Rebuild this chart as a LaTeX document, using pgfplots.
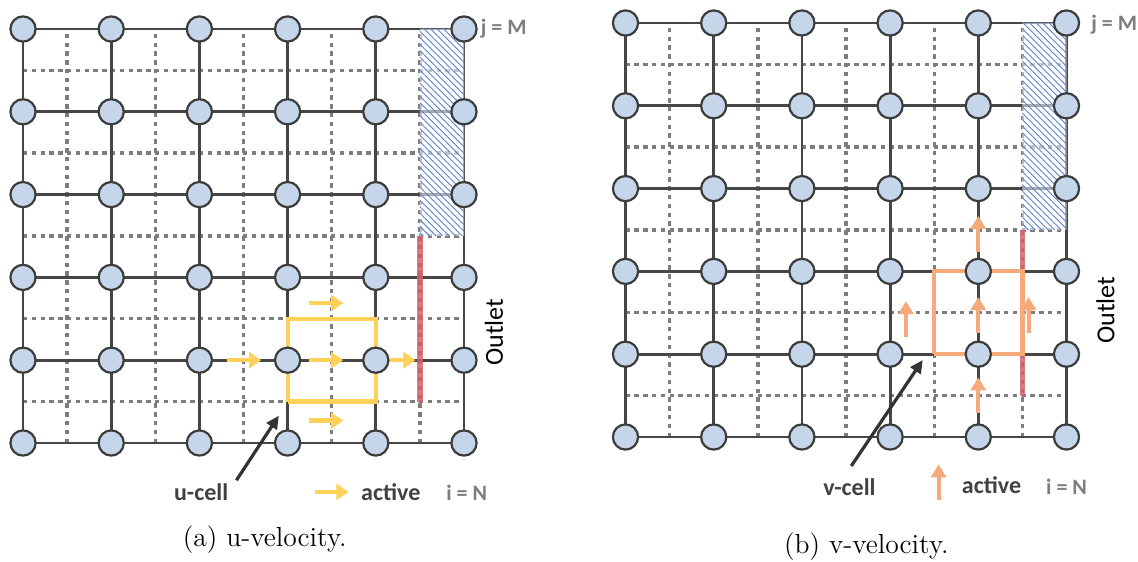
\documentclass[border=0pt]{standalone}
\usepackage{pgfplots}
\pgfplotsset{compat=1.18}
\usepackage{fontspec}
\newfontfamily\calib{Carlito}
\usetikzlibrary{arrows.meta,patterns.meta}
\definecolor{nodefill}{RGB}{198,214,234}
\definecolor{nodeedge}{RGB}{60,60,60}
\definecolor{gridline}{RGB}{70,70,70}
\definecolor{dashgray}{RGB}{125,125,125}
\definecolor{hatchblue}{RGB}{90,128,210}
\definecolor{redline}{RGB}{214,96,106}
\definecolor{uyellow}{RGB}{255,208,90}
\definecolor{vorange}{RGB}{244,170,122}
\definecolor{labelgray}{RGB}{65,65,65}
\definecolor{idxgray}{RGB}{125,125,125}
\pgfplotsset{
  gridaxis/.style={hide axis, x=44.1pt, y=41.4pt, xmin=-0.5, xmax=5.5,
    ymin=-1.3, ymax=5.3, clip=false, anchor=origin},
}
\newcommand{\meshbase}{%
  % dashed staggered lines
  \addplot[dashgray, line width=1.7pt, dash pattern=on 2.2pt off 2.2pt, unbounded coords=jump, mark=none]
  coordinates {(0.5,0) (0.5,5) (nan,nan) (1.5,0) (1.5,5) (nan,nan) (2.5,0) (2.5,5) (nan,nan)
    (3.5,0) (3.5,5) (nan,nan) (4.5,0) (4.5,5) (nan,nan)
    (0,0.5) (5,0.5) (nan,nan) (0,1.5) (5,1.5) (nan,nan) (0,2.5) (5,2.5) (nan,nan)
    (0,3.5) (5,3.5) (nan,nan) (0,4.5) (5,4.5)};
  % solid mesh lines
  \addplot[gridline, line width=1.4pt, unbounded coords=jump, mark=none]
  coordinates {(0,0) (5,0) (nan,nan) (0,1) (5,1) (nan,nan) (0,2) (5,2) (nan,nan)
    (0,3) (5,3) (nan,nan) (0,4) (5,4) (nan,nan) (0,5) (5,5) (nan,nan)
    (0,0) (0,5) (nan,nan) (1,0) (1,5) (nan,nan) (2,0) (2,5) (nan,nan)
    (3,0) (3,5) (nan,nan) (4,0) (4,5) (nan,nan) (5,0) (5,5)};
  % outlet red line
  \addplot[redline, opacity=0.85, line width=2.6pt, mark=none] coordinates {(4.5,0.5) (4.5,2.5)};
}
\newcommand{\meshnodes}{%
  \addplot[only marks, mark=*, mark size=6.3pt,
    mark options={fill=nodefill, draw=nodeedge, line width=1.1pt}]
  coordinates {(0,0)(1,0)(2,0)(3,0)(4,0)(5,0)
    (0,1)(1,1)(2,1)(3,1)(4,1)(5,1)
    (0,2)(1,2)(2,2)(3,2)(4,2)(5,2)
    (0,3)(1,3)(2,3)(3,3)(4,3)(5,3)
    (0,4)(1,4)(2,4)(3,4)(4,4)(5,4)
    (0,5)(1,5)(2,5)(3,5)(4,5)(5,5)};
  % hatched region
  \addplot[draw=none, fill=white, fill opacity=0.55, mark=none]
    coordinates {(4.5,2.5) (5,2.5) (5,5) (4.5,5) (4.5,2.5)};
  \addplot[draw=none, mark=none, pattern={Lines[angle=-45,distance=2.3pt,line width=0.45pt]},
    pattern color=hatchblue]
    coordinates {(4.5,2.5) (5,2.5) (5,5) (4.5,5) (4.5,2.5)};
}
\begin{document}
\begin{tikzpicture}
\path[use as bounding box] (0,0) rectangle (569pt,280.5pt);
% ---------------- (a) u-velocity
\begin{axis}[gridaxis, at={(11.5pt,59pt)}]
  \meshbase
  \addplot[uyellow, line width=2.1pt, mark=none] coordinates {(3,0.5) (4,0.5) (4,1.5) (3,1.5) (3,0.5)};
  \meshnodes
  \addplot[uyellow, line width=2.2pt, mark=none, -{Triangle[length=6pt,width=8pt]}] coordinates {(2.31,1) (2.70,1)};
  \addplot[uyellow, line width=2.2pt, mark=none, -{Triangle[length=6pt,width=8pt]}] coordinates {(3.24,1) (3.63,1)};
  \addplot[uyellow, line width=2.2pt, mark=none, -{Triangle[length=6pt,width=8pt]}] coordinates {(4.08,1) (4.45,1)};
  \addplot[uyellow, line width=2.2pt, mark=none, -{Triangle[length=6pt,width=8pt]}] coordinates {(3.24,1.69) (3.63,1.69)};
  \addplot[uyellow, line width=2.2pt, mark=none, -{Triangle[length=6pt,width=8pt]}] coordinates {(3.24,0.27) (3.63,0.27)};
  \addplot[uyellow, line width=2.2pt, mark=none, -{Triangle[length=6pt,width=8pt]}] coordinates {(3.31,-0.59) (3.69,-0.59)};
  \addplot[black!80, line width=1.6pt, mark=none, -{Triangle[length=6.5pt,width=6pt]}] coordinates {(2.42,-0.45) (2.90,0.33)};
  \node[font=\calib\bfseries\fontsize{12}{14}\selectfont, text=labelgray] at (axis cs:2.02,-0.59) {u-cell};
  \node[font=\calib\bfseries\fontsize{12}{14}\selectfont, text=labelgray] at (axis cs:4.17,-0.59) {active};
  \node[font=\calib\bfseries\fontsize{11}{13}\selectfont, text=idxgray] at (axis cs:5.03,-0.6) {i = N};
  \node[font=\calib\bfseries\fontsize{11}{13}\selectfont, text=idxgray] at (axis cs:5.45,5.0) {j = M};
  \node[rotate=90, font=\calib\fontsize{13}{15}\selectfont] at (axis cs:5.34,1.34) {Outlet};
  \node[font=\fontsize{13.8}{16}\selectfont] at (axis cs:2.74,-1.17) {(a) u-velocity.};
\end{axis}
% ---------------- (b) v-velocity
\begin{axis}[gridaxis, at={(312.75pt,62pt)}]
  \meshbase
  \addplot[vorange, line width=2.1pt, mark=none] coordinates {(3.5,1) (4.5,1) (4.5,2) (3.5,2) (3.5,1)};
  \meshnodes
  \addplot[vorange, line width=2pt, mark=none, -{Triangle[length=6.5pt,width=7.5pt]}] coordinates {(3.18,1.21) (3.18,1.64)};
  \addplot[vorange, line width=2pt, mark=none, -{Triangle[length=6.5pt,width=7.5pt]}] coordinates {(4,1.26) (4,1.69)};
  \addplot[vorange, line width=2pt, mark=none, -{Triangle[length=6.5pt,width=7.5pt]}] coordinates {(4.57,1.26) (4.57,1.69)};
  \addplot[vorange, line width=2pt, mark=none, -{Triangle[length=6.5pt,width=7.5pt]}] coordinates {(4,2.23) (4,2.67)};
  \addplot[vorange, line width=2pt, mark=none, -{Triangle[length=6.5pt,width=7.5pt]}] coordinates {(4,0.29) (4,0.72)};
  \addplot[vorange, line width=2pt, mark=none, -{Triangle[length=6.5pt,width=7.5pt]}] coordinates {(3.55,-0.76) (3.55,-0.33)};
  \addplot[black!80, line width=1.6pt, mark=none, -{Triangle[length=6.5pt,width=6pt]}] coordinates {(2.56,-0.35) (3.37,0.93)};
  \node[font=\calib\bfseries\fontsize{12}{14}\selectfont, text=labelgray] at (axis cs:2.54,-0.6) {v-cell};
  \node[font=\calib\bfseries\fontsize{12}{14}\selectfont, text=labelgray] at (axis cs:4.15,-0.58) {active};
  \node[font=\calib\bfseries\fontsize{11}{13}\selectfont, text=idxgray] at (axis cs:5.0,-0.6) {i = N};
  \node[font=\calib\bfseries\fontsize{11}{13}\selectfont, text=idxgray] at (axis cs:5.54,4.98) {j = M};
  \node[rotate=90, font=\calib\fontsize{13}{15}\selectfont] at (axis cs:5.44,1.53) {Outlet};
  \node[font=\fontsize{13.8}{16}\selectfont] at (axis cs:2.73,-1.32) {(b) v-velocity.};
\end{axis}
\end{tikzpicture}
\end{document}
